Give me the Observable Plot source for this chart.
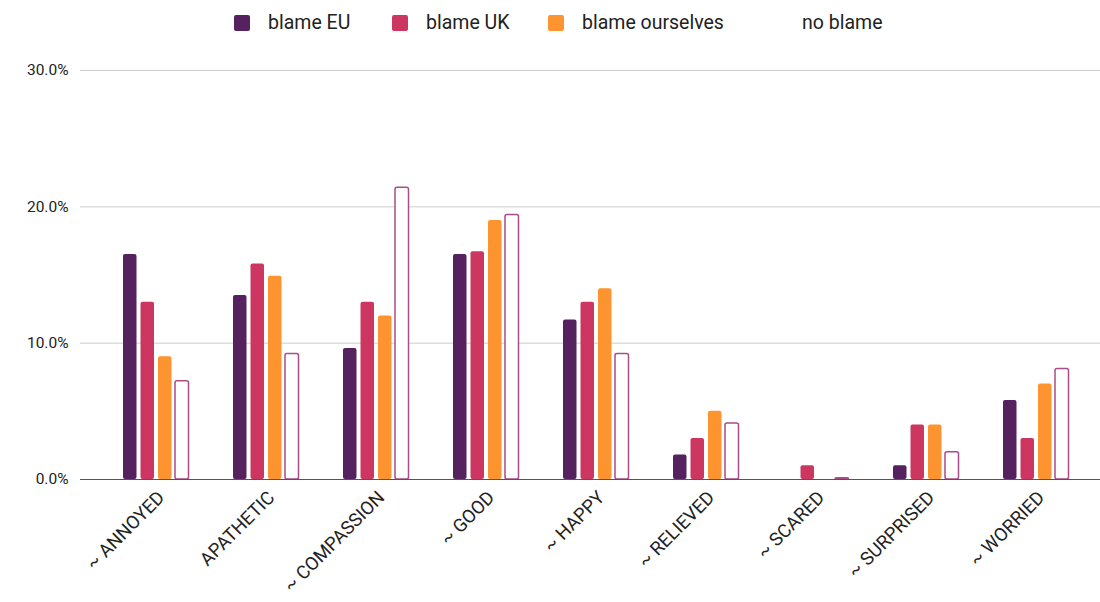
<!DOCTYPE html>
<html><head><meta charset="utf-8">
<script src="https://cdn.jsdelivr.net/npm/d3@7"></script>
<script src="https://cdn.jsdelivr.net/npm/@observablehq/plot@0.6"></script>
<style>
body{margin:0;background:#fff;font-family:Roboto,"Liberation Sans",sans-serif;}
#legend{position:relative;height:45px;font-size:19.5px;color:#222;}
.item{position:absolute;top:0;height:45px;display:flex;align-items:center;white-space:nowrap;}
.sw{width:16px;height:16px;border-radius:2px;margin-right:18px;}
</style></head><body>
<div id="legend"></div><div id="chart"></div>
<script>
const categories = ["~ ANNOYED","APATHETIC","~ COMPASSION","~ GOOD","~ HAPPY","~ RELIEVED","~ SCARED","~ SURPRISED","~ WORRIED"];
const seriesNames = ["blame EU","blame UK","blame ourselves","no blame"];
const blameEU = [16.5,13.5,9.6,16.5,11.7,1.8,0,1.0,5.8];
const blameUK = [13.0,15.8,13.0,16.7,13.0,3.0,1.0,4.0,3.0];
const blameOurselves = [9.0,14.9,12.0,19.0,14.0,5.0,0,4.0,7.0];
const noBlame = [7.2,9.2,21.4,19.4,9.2,4.1,0.1,2.0,8.1];
const yTicks = [0,10,20,30];
const colors = ["#55215f","#cc3660","#fe9430","#ffffff"];
const outline = "#a94c87";

const seriesValues = [blameEU, blameUK, blameOurselves, noBlame];
const rows = [];
seriesNames.forEach((s, i) => categories.forEach((c, j) => rows.push({series: s, si: i, category: c, value: seriesValues[i][j]})));

// legend
const legendLeft = [234, 392, 548, 768];
const leg = document.getElementById("legend");
seriesNames.forEach((s, i) => {
  const it = document.createElement("div"); it.className = "item"; it.style.left = legendLeft[i] + "px";
  const sw = document.createElement("div"); sw.className = "sw"; sw.style.background = colors[i];
  const t = document.createElement("span"); t.textContent = s;
  it.appendChild(sw); it.appendChild(t); leg.appendChild(it);
});

const insets = [[22,74.5],[39.5,57],[57,39.5],[74,22.5]];
const barMarks = seriesNames.map((s, i) => Plot.barY(rows.filter(r => r.si === i), {
  x: "category", y: "value",
  fill: colors[i],
  stroke: i === 3 ? outline : "none",
  strokeWidth: 1.5,
  insetLeft: insets[i][0], insetRight: insets[i][1],
  rx: 2
}));

const chart = Plot.plot({
  width: 1100, height: 557,
  marginLeft: 80, marginRight: 0, marginTop: 25, marginBottom: 123,
  style: {fontFamily: "Roboto, 'Liberation Sans', sans-serif", fontSize: "15px", color: "#222", background: "#fff", overflow: "visible"},
  x: {domain: categories, range: [101, 1091], padding: 0, label: null},
  y: {domain: [0, 30], label: null},
  marks: [
    Plot.gridY(yTicks.filter(d => d > 0), {stroke: "#cccccc", strokeOpacity: 1}),
    ...barMarks,
    Plot.ruleY([0], {stroke: "#555"}),
    Plot.axisY(yTicks, {tickSize: 0, tickPadding: 12, tickFormat: d => d.toFixed(1) + "%", fontSize: 15.5, label: null}),
    Plot.axisX({tickSize: 0, tickPadding: 15, tickRotate: -45, fontSize: 18.5, dx: 5, label: null})
  ]
});
document.getElementById("chart").appendChild(chart);
</script>
</body></html>
